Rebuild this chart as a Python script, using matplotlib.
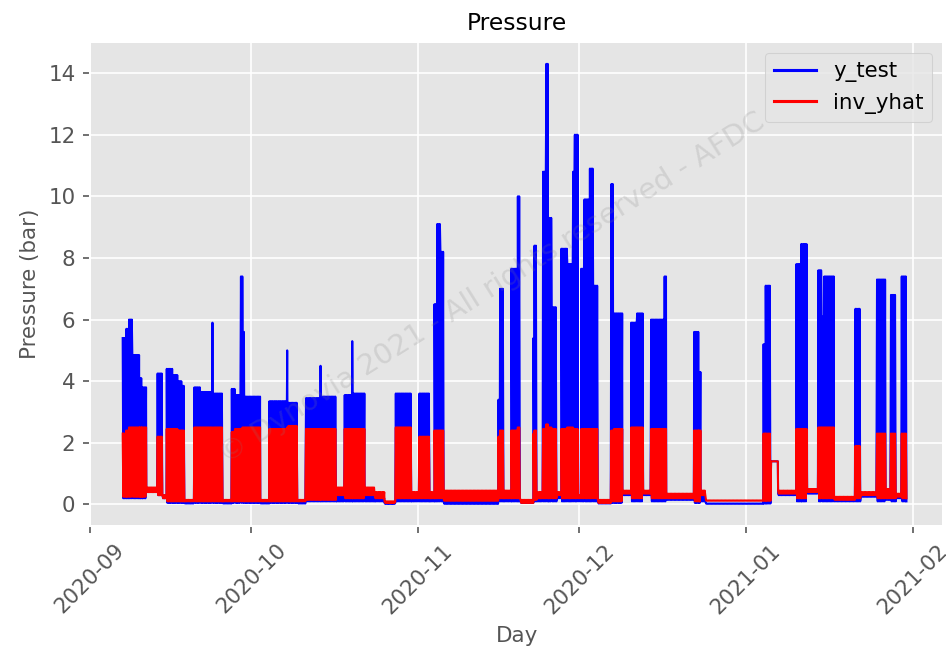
import numpy as np
import pandas as pd
import matplotlib
matplotlib.use('Agg')
import matplotlib.pyplot as plt

# segments: start day (days after 2020-09-01),
# upper / lower envelope of y_test and inv_yhat inside each segment
seg_day = [6.1, 6.8, 7.3, 7.9, 9.3, 9.7, 10.5, 12.6, 13.5,
           14.3, 15.5, 16.5, 17.2, 17.6, 19.45, 20.5, 22.8, 23.05, 24.7,
           26.4, 27.0, 28.1, 28.4, 28.9, 31.7, 33.4, 36.7, 36.95, 38.7,
           40.2, 42.9, 43.15, 45.8, 47.4, 48.8, 49.05, 51.1, 53.0, 54.8,
           56.9, 59.8, 61.3, 63.2, 64.1, 64.6, 65.2, 65.8, 76.0, 76.3,
           77.0, 78.4, 79.6, 80.1, 82.5, 82.7, 83.2, 84.3, 84.9, 85.3,
           85.9, 86.8, 87.7, 88.8, 89.9, 90.2, 90.8, 91.4, 92.0, 93.0,
           93.6, 94.5, 97.0, 97.5, 99.05, 100.7, 101.8, 102.9, 104.4, 106.9,
           107.2, 112.4, 113.3, 113.6, 114.6, 125.3, 125.7, 126.7, 128.0, 131.4,
           132.3, 133.4, 135.5, 136.1, 136.6, 138.4, 142.4, 143.4, 146.4, 148.0,
           149.0, 149.9, 151.0]
end_day = 151.9

test_hi = [5.4, 5.7, 6.0, 4.85, 4.1, 3.8, 0.5, 4.25, 0.3,
           4.4, 4.2, 4.0, 3.85, 0.1, 3.8, 3.65, 5.9, 3.6, 0.1,
           3.75, 3.55, 7.4, 5.6, 3.5, 0.1, 3.35, 5.0, 3.3, 0.1,
           3.45, 4.5, 3.5, 0.3, 3.55, 5.3, 3.6, 0.3, 0.2, 0.05,
           3.6, 0.2, 3.6, 0.2, 6.5, 9.1, 8.2, 0.1, 3.4, 7.0,
           0.2, 7.65, 10.0, 0.1, 5.4, 8.4, 0.2, 10.8, 14.3, 9.3,
           6.4, 0.3, 8.3, 7.8, 10.8, 12.0, 0.2, 7.65, 9.9, 10.9,
           7.1, 0.1, 10.4, 6.2, 0.35, 5.9, 6.2, 0.35, 6.0, 7.4,
           0.2, 5.6, 4.3, 0.3, 0.03, 5.2, 7.1, 1.4, 0.35, 7.8,
           8.45, 0.4, 7.6, 6.1, 7.4, 0.15, 6.35, 0.3, 7.3, 0.3,
           6.8, 0.3, 7.4]

test_lo = [0.2, 0.2, 0.2, 0.2, 0.2, 0.2, 0.4, 0.3, 0.2,
           0.05, 0.05, 0.05, 0.05, 0.03, 0.05, 0.05, 0.05, 0.05, 0.03,
           0.05, 0.05, 0.05, 0.05, 0.05, 0.03, 0.05, 0.05, 0.05, 0.03,
           0.1, 0.1, 0.1, 0.1, 0.1, 0.1, 0.1, 0.1, 0.1, 0.02,
           0.1, 0.1, 0.1, 0.1, 0.1, 0.1, 0.1, 0.02, 0.1, 0.1,
           0.1, 0.1, 0.1, 0.05, 0.1, 0.1, 0.1, 0.1, 0.1, 0.1,
           0.1, 0.2, 0.1, 0.1, 0.1, 0.1, 0.1, 0.1, 0.1, 0.1,
           0.1, 0.03, 0.05, 0.05, 0.3, 0.1, 0.1, 0.3, 0.1, 0.1,
           0.15, 0.05, 0.05, 0.1, 0.02, 0.03, 0.03, 1.4, 0.3, 0.1,
           0.1, 0.35, 0.1, 0.1, 0.1, 0.1, 0.1, 0.25, 0.1, 0.15,
           0.1, 0.2, 0.1]

pred_hi = [2.3, 2.4, 2.5, 2.5, 2.5, 2.5, 0.55, 2.2, 0.3,
           2.45, 2.45, 2.4, 2.4, 0.15, 2.5, 2.5, 2.4, 2.5, 0.15,
           2.35, 2.45, 2.45, 2.5, 2.5, 0.15, 2.45, 2.5, 2.55, 0.15,
           2.45, 2.45, 2.45, 0.55, 2.45, 2.45, 2.45, 0.55, 0.4, 0.1,
           2.5, 0.4, 2.2, 0.4, 2.4, 2.4, 2.4, 0.45, 2.2, 2.4,
           0.45, 2.4, 2.5, 0.15, 2.3, 2.4, 0.4, 2.45, 2.6, 2.5,
           2.45, 0.4, 2.45, 2.5, 2.45, 2.45, 0.3, 2.45, 2.45, 2.45,
           2.45, 0.15, 2.4, 2.45, 0.45, 2.5, 2.5, 0.45, 2.45, 2.45,
           0.35, 2.4, 2.4, 0.45, 0.13, 2.3, 2.3, 1.4, 0.45, 2.45,
           2.45, 0.5, 2.5, 2.5, 2.5, 0.25, 1.9, 0.4, 2.3, 0.5,
           2.3, 0.35, 2.3]

pred_lo = [0.25, 0.25, 0.25, 0.25, 0.25, 0.25, 0.4, 0.3, 0.2,
           0.1, 0.1, 0.1, 0.1, 0.1, 0.1, 0.1, 0.1, 0.1, 0.1,
           0.1, 0.1, 0.1, 0.1, 0.1, 0.1, 0.1, 0.1, 0.1, 0.1,
           0.15, 0.15, 0.15, 0.3, 0.2, 0.2, 0.2, 0.3, 0.2, 0.05,
           0.2, 0.2, 0.2, 0.2, 0.2, 0.2, 0.2, 0.12, 0.2, 0.2,
           0.2, 0.2, 0.2, 0.05, 0.15, 0.15, 0.2, 0.2, 0.2, 0.2,
           0.2, 0.3, 0.2, 0.2, 0.2, 0.2, 0.2, 0.2, 0.2, 0.2,
           0.2, 0.05, 0.1, 0.1, 0.35, 0.2, 0.2, 0.35, 0.2, 0.2,
           0.2, 0.1, 0.1, 0.3, 0.12, 0.12, 0.12, 1.4, 0.35, 0.2,
           0.2, 0.4, 0.2, 0.2, 0.2, 0.15, 0.2, 0.3, 0.2, 0.2,
           0.2, 0.25, 0.2]

t0 = pd.Timestamp('2020-09-01')
step = 0.125  # 3 hourly readings


def build_series(hi, lo):
    days, vals = [], []
    edges = seg_day + [end_day]
    for i in range(len(seg_day)):
        t = np.arange(edges[i], edges[i + 1], step)
        v = np.where(np.arange(len(t)) % 2 == 0, hi[i], lo[i])
        days.extend(t)
        vals.extend(v)
    idx = t0 + pd.to_timedelta(np.array(days), unit='D')
    return pd.Series(vals, index=idx)


y_test = build_series(test_hi, test_lo)
inv_yhat = build_series(pred_hi, pred_lo)

plt.style.use('ggplot')
fig = plt.figure(figsize=(946 / 148, 654 / 148), dpi=148)
ax = fig.add_axes([0.095, 0.196, 0.902, 0.74])

ax.plot(y_test.index, y_test.values, color='blue', lw=1.0, label='y_test')
ax.plot(inv_yhat.index, inv_yhat.values, color='red', lw=1.0, label='inv_yhat')

ax.set_xlim(t0, t0 + pd.Timedelta(days=158.7))
ax.set_title('Pressure', fontsize=11.4, color='black')
ax.set_xlabel('Day', fontsize=10.4)
ax.set_ylabel('Pressure (bar)', fontsize=10.4)
ax.tick_params(labelsize=10.4)
plt.setp(ax.get_xticklabels(), rotation=45)
leg = ax.legend(loc='upper right', fontsize=10.4)
for line in leg.get_lines():
    line.set_linewidth(1.5)

fig.text(0.52, 0.56, '\u00a9 Dynovia 2021 - All rights reserved - AFDC',
         fontsize=14, color='gray', alpha=0.2, rotation=32,
         ha='center', va='center')

fig.savefig('out.png', dpi=148)
